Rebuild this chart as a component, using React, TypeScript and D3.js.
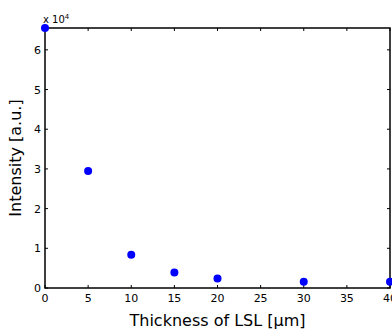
import React, { useEffect, useRef } from "react";
import * as d3 from "d3";

const thickness = [0, 5, 10, 15, 20, 30, 40];
const intensity = [65500, 29500, 8400, 3900, 2400, 1600, 1600];
const xTicks = [0, 5, 10, 15, 20, 25, 30, 35, 40];
const yTicks = [0, 1, 2, 3, 4, 5, 6];

const App = () => {
  const ref = useRef(null);

  useEffect(() => {
    const svg = d3.select(ref.current);
    svg.html("");
    const left = 45, right = 390, top = 28, bottom = 288;
    const x = d3.scaleLinear().domain([0, 40]).range([left, right]);
    const y = d3.scaleLinear().domain([0, 6.55]).range([bottom, top]);
    const font = "'DejaVu Sans', sans-serif";

    // box
    svg.append("rect")
      .attr("x", left).attr("y", top)
      .attr("width", right - left).attr("height", bottom - top)
      .attr("fill", "none").attr("stroke", "#000").attr("stroke-width", 1.5);

    // ticks point inward, on all four sides
    const g = svg.append("g");
    g.selectAll("line.xb").data(xTicks).join("line").attr("class", "xb")
      .attr("x1", (d) => x(d)).attr("x2", (d) => x(d))
      .attr("y1", bottom).attr("y2", bottom - 3)
      .attr("stroke", "#000");
    g.selectAll("line.xt").data(xTicks).join("line").attr("class", "xt")
      .attr("x1", (d) => x(d)).attr("x2", (d) => x(d))
      .attr("y1", top).attr("y2", top + 3)
      .attr("stroke", "#000");
    g.selectAll("line.yl").data(yTicks).join("line").attr("class", "yl")
      .attr("x1", left).attr("x2", left + 3)
      .attr("y1", (d) => y(d)).attr("y2", (d) => y(d))
      .attr("stroke", "#000");
    g.selectAll("line.yr").data(yTicks).join("line").attr("class", "yr")
      .attr("x1", right).attr("x2", right - 3)
      .attr("y1", (d) => y(d)).attr("y2", (d) => y(d))
      .attr("stroke", "#000");

    svg.append("g").selectAll("text").data(xTicks).join("text")
      .attr("x", (d) => x(d)).attr("y", bottom + 14)
      .attr("text-anchor", "middle")
      .style("font-family", font).style("font-size", "11px")
      .text((d) => d);
    svg.append("g").selectAll("text").data(yTicks).join("text")
      .attr("x", left - 4).attr("y", (d) => y(d) + 4)
      .attr("text-anchor", "end")
      .style("font-family", font).style("font-size", "11px")
      .text((d) => d);

    // exponent
    const ex = svg.append("text").attr("x", left - 2).attr("y", top - 5)
      .style("font-family", font).style("font-size", "10px");
    ex.append("tspan").text("x 10");
    ex.append("tspan").attr("dy", -4).style("font-size", "7px").text("4");

    // labels
    svg.append("text")
      .attr("x", (left + right) / 2).attr("y", 326)
      .attr("text-anchor", "middle")
      .style("font-family", font).style("font-size", "16px")
      .text("Thickness of LSL [μm]");
    svg.append("text")
      .attr("transform", `translate(21,${(top + bottom) / 2}) rotate(-90)`)
      .attr("text-anchor", "middle")
      .style("font-family", font).style("font-size", "16px")
      .text("Intensity [a.u.]");

    svg.append("g").selectAll("circle").data(thickness).join("circle")
      .attr("cx", (d) => x(d))
      .attr("cy", (d, i) => y(intensity[i] / 1e4))
      .attr("r", 4)
      .attr("fill", "#0000ff");
  }, []);

  return (
    <svg ref={ref} width={392} height={333}
      style={{ position: "absolute", left: 0, top: 0, background: "#fff" }} />
  );
};

export default App;
